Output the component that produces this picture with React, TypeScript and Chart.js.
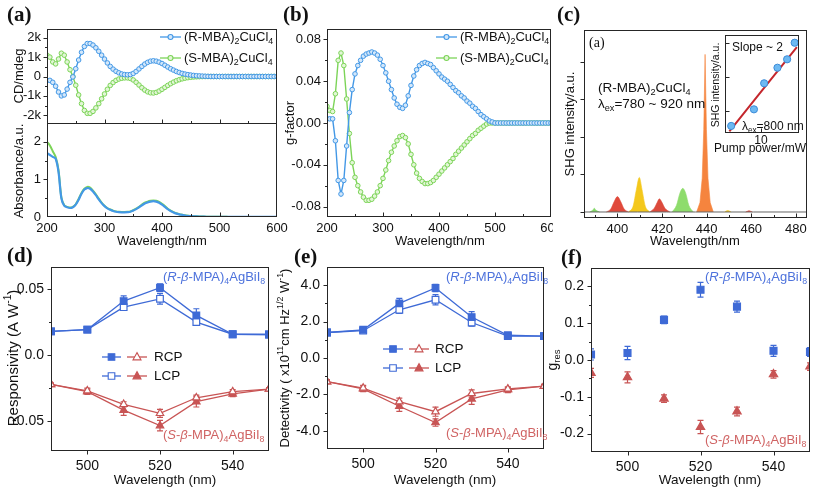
import React, { useEffect, useRef } from 'react';
import { Chart, registerables } from 'chart.js';

Chart.register(...registerables);

const SANS = '"Liberation Sans", Arial, sans-serif';
const SERIF = '"Liberation Serif", "Times New Roman", serif';

const A_BLUE = '#4398e6';
const A_BLUE_FILL = '#d3e7fa';
const A_GREEN = '#7cd458';
const A_GREEN_FILL = '#e2f6d6';
const D_BLUE = '#3e6ad6';
const D_RED = '#c85454';
const T_BLUE = '#4d72dc';
const T_RED = '#d06464';

// ---------------- (a) / (b) data ----------------
const wavelengthAB = [200, 205, 210, 215, 220, 225, 230, 235, 240, 245, 250, 255, 260, 265, 270, 275, 280, 285, 290, 295, 300, 305, 310, 315, 320, 325, 330, 335, 340, 345, 350, 355, 360, 365, 370, 375, 380, 385, 390, 395, 400, 405, 410, 415, 420, 425, 430, 435, 440, 445, 450, 455, 460, 465, 470, 475, 480, 485, 490, 495, 500, 505, 510, 515, 520, 525, 530, 535, 540, 545, 550, 555, 560, 565, 570, 575, 580, 585, 590, 595, 600];

const cdR = [-200, -200, -300, -500, -800, -1000, -950, -650, -300, -20, 400, 850, 1250, 1550, 1700, 1700, 1620, 1480, 1300, 1100, 900, 700, 520, 380, 270, 190, 130, 100, 90, 100, 160, 260, 390, 520, 640, 730, 790, 810, 790, 740, 670, 580, 490, 400, 330, 260, 205, 160, 125, 95, 75, 55, 40, 30, 20, 12, 6, 2, 0, 0, 0, 0, 0, 0, 0, 0, 0, 0, 0, 0, 0, 0, 0, 0, 0, 0, 0, 0, 0, 0, 0];
const cdS = [1100, 1000, 750, 650, 900, 1200, 1100, 750, 350, 0, -450, -950, -1400, -1750, -1900, -1900, -1800, -1620, -1400, -1150, -900, -660, -460, -310, -200, -130, -90, -70, -70, -100, -180, -300, -440, -580, -700, -790, -840, -850, -820, -750, -660, -560, -460, -370, -290, -220, -165, -120, -85, -60, -40, -25, -15, -8, -4, -1, 0, 0, 0, 0, 0, 0, 0, 0, 0, 0, 0, 0, 0, 0, 0, 0, 0, 0, 0, 0, 0, 0, 0, 0, 0];
const absR = [1.7, 1.65, 1.6, 1.55, 1.2, 0.5, 0.3, 0.26, 0.24, 0.26, 0.33, 0.46, 0.62, 0.73, 0.77, 0.75, 0.68, 0.58, 0.47, 0.37, 0.29, 0.23, 0.19, 0.16, 0.14, 0.13, 0.125, 0.125, 0.13, 0.14, 0.17, 0.21, 0.26, 0.31, 0.36, 0.39, 0.41, 0.42, 0.41, 0.38, 0.33, 0.27, 0.21, 0.16, 0.12, 0.09, 0.07, 0.055, 0.04, 0.03, 0.025, 0.02, 0.015, 0.012, 0.01, 0.008, 0.006, 0.005, 0.004, 0.004, 0.004, 0.003, 0.003, 0.003, 0.003, 0.003, 0.003, 0.003, 0.003, 0.002, 0.002, 0.002, 0.002, 0.002, 0.002, 0.002, 0.002, 0.002, 0.002, 0.002, 0.002];
const absS = [2.0, 1.9, 1.75, 1.6, 1.25, 0.52, 0.31, 0.27, 0.25, 0.27, 0.34, 0.48, 0.64, 0.75, 0.8, 0.78, 0.7, 0.6, 0.49, 0.38, 0.3, 0.24, 0.2, 0.17, 0.15, 0.14, 0.135, 0.135, 0.14, 0.15, 0.18, 0.22, 0.27, 0.33, 0.38, 0.41, 0.43, 0.44, 0.43, 0.4, 0.35, 0.29, 0.22, 0.17, 0.13, 0.1, 0.075, 0.06, 0.045, 0.035, 0.028, 0.022, 0.017, 0.013, 0.011, 0.009, 0.007, 0.006, 0.005, 0.005, 0.004, 0.004, 0.004, 0.003, 0.003, 0.003, 0.003, 0.003, 0.003, 0.003, 0.003, 0.002, 0.002, 0.002, 0.002, 0.002, 0.002, 0.002, 0.002, 0.002, 0.002];
const gR = [0.004, 0.004, 0.004, -0.017, -0.055, -0.068, -0.055, -0.022, 0.01, 0.032, 0.047, 0.055, 0.06, 0.064, 0.066, 0.067, 0.068, 0.067, 0.065, 0.061, 0.055, 0.048, 0.04, 0.032, 0.024, 0.018, 0.015, 0.014, 0.017, 0.026, 0.036, 0.045, 0.051, 0.055, 0.057, 0.058, 0.057, 0.056, 0.053, 0.05, 0.047, 0.044, 0.042, 0.04, 0.037, 0.034, 0.031, 0.029, 0.026, 0.024, 0.021, 0.019, 0.016, 0.014, 0.011, 0.008, 0.006, 0.004, 0.002, 0.001, 0, 0, 0, 0, 0, 0, 0, 0, 0, 0, 0, 0, 0, 0, 0, 0, 0, 0, 0, 0, 0];
const gS = [0.016, 0.012, 0.011, 0.028, 0.06, 0.067, 0.055, 0.023, -0.01, -0.038, -0.052, -0.06, -0.066, -0.071, -0.074, -0.074, -0.073, -0.07, -0.066, -0.06, -0.053, -0.045, -0.036, -0.028, -0.022, -0.017, -0.013, -0.012, -0.014, -0.02, -0.03, -0.04, -0.048, -0.053, -0.056, -0.058, -0.058, -0.057, -0.055, -0.052, -0.049, -0.046, -0.043, -0.04, -0.037, -0.034, -0.03, -0.027, -0.024, -0.021, -0.018, -0.015, -0.012, -0.01, -0.007, -0.005, -0.003, -0.001, 0, 0, 0, 0, 0, 0, 0, 0, 0, 0, 0, 0, 0, 0, 0, 0, 0, 0, 0, 0, 0, 0, 0];

const abTicks = [200, 300, 400, 500, 600];
const abTickLabels = ['200', '300', '400', '500', '600'];
const abMinor = [250, 350, 450, 550];
const cdTicks = [-2000, -1000, 0, 1000, 2000];
const cdTickLabels = ['-2k', '-1k', '0', '1k', '2k'];
const absTicks = [0, 1, 2];
const absTickLabels = ['0', '1', '2'];
const gTicks = [-0.08, -0.04, 0, 0.04, 0.08];
const gTickLabels = ['-0.08', '-0.04', '0.00', '0.04', '0.08'];

// ---------------- (c) data ----------------
const shg390X = [387.5, 389, 389.6, 390.3, 392];
const shg390Y = [0, 0.05, 0.1, 0.05, 0];
const shg400X = [395, 397, 398.5, 400, 401.5, 403, 405];
const shg400Y = [0, 0.08, 0.27, 0.41, 0.27, 0.08, 0];
const shg410X = [405, 407, 408.5, 409.8, 411, 412.5, 414.5];
const shg410Y = [0, 0.15, 0.6, 0.92, 0.6, 0.15, 0];
const shg420X = [414.5, 416.5, 417.8, 418.8, 420, 421.3, 423.5];
const shg420Y = [0, 0.1, 0.25, 0.35, 0.25, 0.1, 0];
const shg430X = [424.5, 426.5, 428, 429.3, 430.6, 432, 434];
const shg430Y = [0, 0.18, 0.5, 0.63, 0.5, 0.18, 0];
const shg440X = [435.5, 437, 438, 438.7, 439.3, 439.9, 440.6, 441.6, 443];
const shg440Y = [0, 0.25, 0.9, 2.2, 4.2, 2.2, 0.9, 0.25, 0];
const shg450X = [448, 449.5, 451];
const shg450Y = [0, 0.04, 0];
const shg460X = [457.5, 459, 460.5];
const shg460Y = [0, 0.03, 0];
const baseX = [385, 485];
const baseY = [0, 0];
const cTicks = [400, 420, 440, 460, 480];
const cTickLabels = ['400', '420', '440', '460', '480'];
const cMinor = [390, 410, 430, 450, 470];
const cYTicks = [0, 1, 2, 3, 4];

// inset (power dependence)
const pumpPower = [7, 9.2, 10.4, 12.2, 13.7, 15.0];
const shgPower = [52.2, 71.8, 118.3, 159.4, 187.4, 257.5];
const fitPower = [6.85, 15.4];
const fitShg = [47, 237];
const insetXTicks = [10];
const insetXTickLabels = ['10'];
const insetYTicks = [70, 134, 257];

// ---------------- (d)(e)(f) data ----------------
const wavelengthDEF = [490, 500, 510, 520, 530, 540, 550];
const defTicks = [500, 520, 540];
const defTickLabels = ['500', '520', '540'];

const respR_RCP = [0.0177, 0.019, 0.0406, 0.0507, 0.0298, 0.0155, 0.0153];
const respR_RCPerr = [0.001, 0.001, 0.004, 0.003, 0.005, 0.0015, 0.002];
const respR_LCP = [0.0177, 0.019, 0.036, 0.0423, 0.0247, 0.0155, 0.0153];
const respR_LCPerr = [0.001, 0.001, 0.002, 0.004, 0.002, 0.0015, 0.002];
const respS_RCP = [-0.0225, -0.0273, -0.0376, -0.0444, -0.0326, -0.028, -0.026];
const respS_RCPerr = [0.001, 0.002, 0.002, 0.003, 0.002, 0.0015, 0.001];
const respS_LCP = [-0.0225, -0.028, -0.042, -0.0537, -0.0356, -0.0297, -0.026];
const respS_LCPerr = [0.001, 0.002, 0.004, 0.004, 0.004, 0.002, 0.001];
const respTicks = [-0.05, 0, 0.05];
const respTickLabels = ['-0.05', '0.0', '0.05'];

const detR_RCP = [1.4, 1.55, 3.0, 3.85, 2.25, 1.25, 1.2];
const detR_RCPerr = [0.1, 0.1, 0.28, 0.2, 0.3, 0.1, 0.1];
const detR_LCP = [1.4, 1.5, 2.65, 3.2, 1.95, 1.2, 1.2];
const detR_LCPerr = [0.1, 0.1, 0.2, 0.28, 0.2, 0.1, 0.1];
const detS_RCP = [-1.3, -1.65, -2.4, -2.95, -1.95, -1.7, -1.55];
const detS_RCPerr = [0.1, 0.15, 0.2, 0.25, 0.2, 0.1, 0.1];
const detS_LCP = [-1.3, -1.7, -2.65, -3.55, -2.25, -1.75, -1.55];
const detS_LCPerr = [0.1, 0.15, 0.28, 0.2, 0.3, 0.15, 0.1];
const detTicks = [-4, -2, 0, 2, 4];
const detTickLabels = ['-4.0', '-2.0', '0.0', '2.0', '4.0'];

const gresR = [0.015, 0.019, 0.109, 0.191, 0.145, 0.025, 0.022];
const gresRerr = [0.015, 0.018, 0.01, 0.02, 0.015, 0.015, 0.012];
const gresS = [-0.035, -0.047, -0.105, -0.182, -0.14, -0.039, -0.018];
const gresSerr = [0.012, 0.015, 0.01, 0.018, 0.012, 0.01, 0.01];
const gresTicks = [-0.2, -0.1, 0, 0.1, 0.2];
const gresTickLabels = ['-0.2', '-0.1', '0.0', '0.1', '0.2'];

// ---------------- helpers ----------------
type Part = { t: string; sub?: boolean; sup?: boolean; it?: boolean };
type TextItem = { parts: Part[]; x: number; y: number; size?: number; color?: string; align?: 'left' | 'center' | 'right'; rot?: boolean; font?: string };
type Mark = { x1: number; x2: number; y: number; color: string; marker: 'circle' | 'rect' | 'triangle'; mx: number; fill: string; size: number };
type Deco = {
  ox: number; oy: number;
  xDir: 'in' | 'out' | 'none'; yDir: 'in' | 'out' | 'none';
  xMinor?: number[]; yMinor?: number[];
  texts?: TextItem[]; marks?: Mark[];
  whiteArea?: boolean; whiteFrom?: number;
};

const P = (t: string, o: Partial<Part> = {}): Part => ({ t, ...o });
const mbaR: Part[] = [P('(R-MBA)'), P('2', { sub: true }), P('CuCl'), P('4', { sub: true })];
const mbaS: Part[] = [P('(S-MBA)'), P('2', { sub: true }), P('CuCl'), P('4', { sub: true })];
const mpaR: Part[] = [P('('), P('R', { it: true }), P('-'), P('β', { it: true }), P('-MPA)'), P('4', { sub: true }), P('AgBiI'), P('8', { sub: true })];
const mpaS: Part[] = [P('('), P('S', { it: true }), P('-'), P('β', { it: true }), P('-MPA)'), P('4', { sub: true }), P('AgBiI'), P('8', { sub: true })];

function drawRich(ctx: CanvasRenderingContext2D, item: TextItem, ox: number, oy: number) {
  const size = item.size ?? 13;
  const fam = item.font ?? SANS;
  const fontOf = (p: Part) => `${p.it ? 'italic ' : ''}${p.sub || p.sup ? size * 0.68 : size}px ${fam}`;
  let total = 0;
  const widths = item.parts.map((p) => {
    ctx.font = fontOf(p);
    const w = ctx.measureText(p.t).width;
    total += w;
    return w;
  });
  ctx.save();
  ctx.translate(item.x - ox, item.y - oy);
  if (item.rot) ctx.rotate(-Math.PI / 2);
  let cx = item.align === 'center' ? -total / 2 : item.align === 'right' ? -total : 0;
  ctx.fillStyle = item.color ?? '#111';
  ctx.textBaseline = 'middle';
  ctx.textAlign = 'left';
  item.parts.forEach((p, i) => {
    ctx.font = fontOf(p);
    const dy = p.sub ? size * 0.32 : p.sup ? -size * 0.36 : 0;
    ctx.fillText(p.t, cx, dy);
    cx += widths[i];
  });
  ctx.restore();
}

function drawMarker(ctx: CanvasRenderingContext2D, kind: string, x: number, y: number, s: number, stroke: string, fill: string) {
  ctx.beginPath();
  if (kind === 'circle') ctx.arc(x, y, s, 0, Math.PI * 2);
  else if (kind === 'rect') ctx.rect(x - s, y - s, 2 * s, 2 * s);
  else {
    ctx.moveTo(x, y - s * 1.15);
    ctx.lineTo(x + s * 1.05, y + s * 0.75);
    ctx.lineTo(x - s * 1.05, y + s * 0.75);
    ctx.closePath();
  }
  ctx.fillStyle = fill;
  ctx.fill();
  ctx.strokeStyle = stroke;
  ctx.lineWidth = 1.1;
  ctx.stroke();
}

function makeDeco(d: Deco) {
  return {
    id: 'deco',
    beforeDraw(chart: any) {
      const { ctx, chartArea: a } = chart;
      ctx.save();
      ctx.fillStyle = '#ffffff';
      if (d.whiteFrom !== undefined) ctx.fillRect(d.whiteFrom - d.ox, 0, chart.width, chart.height);
      if (d.whiteArea) ctx.fillRect(a.left, a.top, a.right - a.left, a.bottom - a.top);
      ctx.restore();
    },
    beforeDatasetsDraw(chart: any) {
      const { ctx, chartArea: a } = chart;
      ctx.save();
      ctx.beginPath();
      ctx.rect(a.left, a.top, a.right - a.left, a.bottom - a.top);
      ctx.clip();
      chart.data.datasets.forEach((ds: any, i: number) => {
        if (!ds.errors) return;
        const meta = chart.getDatasetMeta(i);
        const ys = chart.scales.y;
        meta.data.forEach((el: any, j: number) => {
          const v = ds.data[j].y;
          const e = ds.errors[j];
          const y1 = ys.getPixelForValue(v + e);
          const y2 = ys.getPixelForValue(v - e);
          ctx.strokeStyle = ds.borderColor;
          ctx.lineWidth = 1.2;
          ctx.beginPath();
          ctx.moveTo(el.x, y1);
          ctx.lineTo(el.x, y2);
          ctx.moveTo(el.x - 3, y1);
          ctx.lineTo(el.x + 3, y1);
          ctx.moveTo(el.x - 3, y2);
          ctx.lineTo(el.x + 3, y2);
          ctx.stroke();
        });
      });
      ctx.restore();
    },
    afterDraw(chart: any) {
      const { ctx, chartArea: a } = chart;
      const L = Math.round(a.left), R = Math.round(a.right), T = Math.round(a.top), B = Math.round(a.bottom);
      ctx.save();
      ctx.strokeStyle = '#262626';
      ctx.lineWidth = 1;
      ctx.strokeRect(L + 0.5, T + 0.5, R - L - 1, B - T - 1);
      const xs = chart.scales.x, ys = chart.scales.y;
      const tickX = (vals: number[], len: number) => {
        if (d.xDir === 'none') return;
        vals.forEach((v) => {
          const p = Math.round(xs.getPixelForValue(v)) + 0.5;
          if (p < L || p > R) return;
          const y0 = B - 0.5;
          ctx.beginPath();
          ctx.moveTo(p, y0);
          ctx.lineTo(p, d.xDir === 'out' ? y0 + len : y0 - len);
          ctx.stroke();
        });
      };
      const tickY = (vals: number[], len: number) => {
        if (d.yDir === 'none') return;
        vals.forEach((v) => {
          const p = Math.round(ys.getPixelForValue(v)) + 0.5;
          if (p < T || p > B) return;
          const x0 = L + 0.5;
          ctx.beginPath();
          ctx.moveTo(x0, p);
          ctx.lineTo(d.yDir === 'out' ? x0 - len : x0 + len, p);
          ctx.stroke();
        });
      };
      tickX(xs.ticks.map((t: any) => t.value), 4);
      tickY(ys.ticks.map((t: any) => t.value), 4);
      tickX(d.xMinor ?? [], 2.5);
      tickY(d.yMinor ?? [], 2.5);
      (d.marks ?? []).forEach((m) => {
        ctx.strokeStyle = m.color;
        ctx.lineWidth = 1.3;
        ctx.beginPath();
        ctx.moveTo(m.x1 - d.ox, m.y - d.oy);
        ctx.lineTo(m.x2 - d.ox, m.y - d.oy);
        ctx.stroke();
        drawMarker(ctx, m.marker, m.mx - d.ox, m.y - d.oy, m.size, m.color, m.fill);
      });
      (d.texts ?? []).forEach((t) => drawRich(ctx, t, d.ox, d.oy));
      ctx.restore();
    },
  };
}

function axis(o: { axis: 'x' | 'y'; min: number; max: number; ticks: number[]; labels?: string[]; size: number; font?: number; pad?: number; type?: string }) {
  return {
    type: o.type ?? 'linear',
    position: o.axis === 'x' ? 'bottom' : 'left',
    min: o.min,
    max: o.max,
    grid: { display: false, drawTicks: false },
    border: { display: false },
    afterBuildTicks: (s: any) => { s.ticks = o.ticks.map((v) => ({ value: v })); },
    afterFit: (s: any) => {
      if (o.axis === 'x') s.height = o.size; else s.width = o.size;
      s.paddingLeft = 0; s.paddingRight = 0; s.paddingTop = 0; s.paddingBottom = 0;
    },
    ticks: {
      display: !!o.labels,
      autoSkip: false,
      maxRotation: 0,
      minRotation: 0,
      padding: o.pad ?? 5,
      color: '#111',
      font: { family: SANS, size: o.font ?? 13 },
      callback: (_v: any, i: number) => (o.labels ? o.labels[i] : ''),
    },
  };
}

const pts = (xs: number[], ys: number[]) => xs.map((x, i) => ({ x, y: ys[i] }));

const beadLine = (xs: number[], ys: number[], color: string, fill: string) => ({
  data: pts(xs, ys), borderColor: color, borderWidth: 1.4, pointRadius: 2.3, pointStyle: 'circle',
  pointBackgroundColor: fill, pointBorderColor: color, pointBorderWidth: 1, tension: 0, fill: false, clip: 0,
});
const plainLine = (xs: number[], ys: number[], color: string, width: number) => ({
  data: pts(xs, ys), borderColor: color, borderWidth: width, pointRadius: 0, tension: 0.3, fill: false, clip: 0,
});
const peakArea = (xs: number[], ys: number[], color: string, smooth = true) => ({
  data: pts(xs, ys), borderColor: color, backgroundColor: color, borderWidth: 0.6, pointRadius: 0,
  tension: 0, cubicInterpolationMode: smooth ? 'monotone' : 'default', fill: 'origin', clip: 0,
});
const markLine = (xs: number[], ys: number[], errs: number[], color: string, style: string, filled: boolean, radius: number, showLine = true) => ({
  data: pts(xs, ys), errors: errs, borderColor: color, borderWidth: 1.3, showLine, pointStyle: style, pointRadius: radius,
  pointBackgroundColor: filled ? color : '#ffffff', pointBorderColor: color, pointBorderWidth: 1.2, fill: false, tension: 0, clip: 0,
});

function cfg(datasets: any[], x: any, y: any, pad: { top: number; right: number }, deco: Deco) {
  return {
    type: 'line',
    data: { datasets },
    options: {
      animation: false,
      responsive: false,
      events: [],
      layout: { autoPadding: false, padding: { top: pad.top, right: pad.right, left: 0, bottom: 0 } },
      plugins: { legend: { display: false }, tooltip: { enabled: false } },
      scales: { x, y },
    },
    plugins: [makeDeco(deco)],
  };
}

// ---------------- panels ----------------
const aTop = () => cfg(
  [beadLine(wavelengthAB, cdR, A_BLUE, A_BLUE_FILL), beadLine(wavelengthAB, cdS, A_GREEN, A_GREEN_FILL)],
  axis({ axis: 'x', min: 200, max: 600, ticks: abTicks, size: 1 }),
  axis({ axis: 'y', min: -2450, max: 2450, ticks: cdTicks, labels: cdTickLabels, size: 47, pad: 6 }),
  { top: 9, right: 13 },
  {
    ox: 0, oy: 20, xDir: 'in', yDir: 'out', xMinor: abMinor, yMinor: [-1500, -500, 500, 1500],
    marks: [
      { x1: 160, x2: 181, y: 37, color: A_BLUE, marker: 'circle', mx: 170.5, fill: A_BLUE_FILL, size: 2.5 },
      { x1: 160, x2: 181, y: 58, color: A_GREEN, marker: 'circle', mx: 170.5, fill: A_GREEN_FILL, size: 2.5 },
    ],
    texts: [
      { parts: [P('CD/mdeg')], x: 19, y: 76, rot: true, align: 'center' },
      { parts: mbaR, x: 184, y: 37 },
      { parts: mbaS, x: 184, y: 58 },
    ],
  },
);

const aBot = () => cfg(
  [plainLine(wavelengthAB, absR, A_BLUE, 2.2), plainLine(wavelengthAB, absS, A_GREEN, 2)],
  axis({ axis: 'x', min: 200, max: 600, ticks: abTicks, labels: abTickLabels, size: 33, pad: 4 }),
  axis({ axis: 'y', min: 0, max: 2.5, ticks: absTicks, labels: absTickLabels, size: 47, pad: 6 }),
  { top: 5, right: 13 },
  {
    ox: 0, oy: 118, xDir: 'in', yDir: 'out', xMinor: abMinor, yMinor: [0.5, 1.5],
    texts: [
      { parts: [P('Absorbance/a.u.')], x: 19, y: 171, rot: true, align: 'center' },
      { parts: [P('Wavelength/nm')], x: 162, y: 241, align: 'center' },
    ],
  },
);

const bCfg = () => cfg(
  [beadLine(wavelengthAB, gR, A_BLUE, A_BLUE_FILL), beadLine(wavelengthAB, gS, A_GREEN, A_GREEN_FILL)],
  axis({ axis: 'x', min: 200, max: 600, ticks: abTicks, labels: abTickLabels, size: 33, pad: 4 }),
  axis({ axis: 'y', min: -0.09, max: 0.09, ticks: gTicks, labels: gTickLabels, size: 47, pad: 6 }),
  { top: 9, right: 4 },
  {
    ox: 280, oy: 20, xDir: 'in', yDir: 'out', xMinor: abMinor, yMinor: [-0.06, -0.02, 0.02, 0.06],
    marks: [
      { x1: 436, x2: 457, y: 37, color: A_BLUE, marker: 'circle', mx: 446.5, fill: A_BLUE_FILL, size: 2.5 },
      { x1: 436, x2: 457, y: 58, color: A_GREEN, marker: 'circle', mx: 446.5, fill: A_GREEN_FILL, size: 2.5 },
    ],
    texts: [
      { parts: [P('g-factor')], x: 290, y: 123, rot: true, align: 'center' },
      { parts: [P('Wavelength/nm')], x: 440, y: 241, align: 'center' },
      { parts: mbaR, x: 460, y: 37 },
      { parts: mbaS, x: 460, y: 58 },
    ],
  },
);

const cCfg = () => cfg(
  [
    plainLine(baseX, baseY, '#666666', 1),
    peakArea(shg390X, shg390Y, '#84d86a'),
    peakArea(shg400X, shg400Y, '#e0493b'),
    peakArea(shg410X, shg410Y, '#f4c81c'),
    peakArea(shg420X, shg420Y, '#dc4a3c'),
    peakArea(shg430X, shg430Y, '#8edc6c'),
    peakArea(shg440X, shg440Y, '#f5843e', false),
    peakArea(shg450X, shg450Y, '#f4c81c'),
    peakArea(shg460X, shg460Y, '#e0493b'),
  ],
  axis({ axis: 'x', min: 385, max: 485, ticks: cTicks, labels: cTickLabels, size: 32, pad: 4 }),
  axis({ axis: 'y', min: -0.16, max: 4.85, ticks: cYTicks, size: 34 }),
  { top: 10, right: 6 },
  {
    ox: 550, oy: 20, xDir: 'in', yDir: 'out', xMinor: cMinor, whiteFrom: 553,
    texts: [
      { parts: [P('SHG intensity/a.u.')], x: 570, y: 124, rot: true, align: 'center' },
      { parts: [P('Wavelength/nm')], x: 695, y: 241, align: 'center' },
      { parts: [P('(a)')], x: 589, y: 43, size: 14, font: SERIF },
      { parts: mbaR, x: 598, y: 88, size: 13.5 },
      { parts: [P('λ'), P('ex', { sub: true }), P('=780 ~ 920 nm')], x: 598, y: 104, size: 13.5 },
    ],
  },
);

const insetCfg = () => cfg(
  [
    { data: pts(pumpPower, shgPower), showLine: false, pointRadius: 3.6, pointStyle: 'circle', pointBackgroundColor: '#6db9f2', pointBorderColor: '#3b8bd8', pointBorderWidth: 1, clip: 0 },
    plainLine(fitPower, fitShg, '#c4262c', 2),
  ],
  axis({ axis: 'x', type: 'logarithmic', min: 6.5, max: 15.8, ticks: insetXTicks, labels: insetXTickLabels, size: 25, pad: 0, font: 12 }),
  axis({ axis: 'y', type: 'logarithmic', min: 45.6, max: 298.6, ticks: insetYTicks, size: 27 }),
  { top: 7, right: 11 },
  {
    ox: 698, oy: 28, xDir: 'in', yDir: 'in', whiteArea: true,
    texts: [
      { parts: [P('SHG intensity/a.u.')], x: 716, y: 85, rot: true, align: 'center', size: 10.5 },
      { parts: [P('Pump power/mW')], x: 760, y: 149, align: 'center', size: 12 },
      { parts: [P('Slope ~ 2')], x: 732, y: 48, size: 12 },
      { parts: [P('λ'), P('ex', { sub: true }), P('=800 nm')], x: 742, y: 127, size: 12 },
    ],
  },
);

const dCfg = () => cfg(
  [
    markLine(wavelengthDEF, respR_RCP, respR_RCPerr, D_BLUE, 'rect', true, 4.7),
    markLine(wavelengthDEF, respR_LCP, respR_LCPerr, D_BLUE, 'rect', false, 4.7),
    markLine(wavelengthDEF, respS_RCP, respS_RCPerr, D_RED, 'triangle', false, 4.3),
    markLine(wavelengthDEF, respS_LCP, respS_LCPerr, D_RED, 'triangle', true, 4.3),
  ],
  axis({ axis: 'x', min: 490, max: 550, ticks: defTicks, labels: defTickLabels, size: 41, pad: 7, font: 14 }),
  axis({ axis: 'y', min: -0.0729, max: 0.0664, ticks: respTicks, labels: respTickLabels, size: 51, pad: 7, font: 14 }),
  { top: 17, right: 6 },
  {
    ox: 0, oy: 250, xDir: 'out', yDir: 'out', yMinor: [-0.025, 0.025],
    marks: [
      { x1: 102, x2: 121, y: 357, color: D_BLUE, marker: 'rect', mx: 111.5, fill: D_BLUE, size: 3.3 },
      { x1: 127, x2: 147, y: 357, color: D_RED, marker: 'triangle', mx: 137, fill: '#ffffff', size: 3.8 },
      { x1: 102, x2: 121, y: 376, color: D_BLUE, marker: 'rect', mx: 111.5, fill: '#ffffff', size: 3.3 },
      { x1: 127, x2: 147, y: 376, color: D_RED, marker: 'triangle', mx: 137, fill: D_RED, size: 3.8 },
    ],
    texts: [
      { parts: [P('Responsivity (A W'), P('-1', { sup: true }), P(')')], x: 14, y: 358, rot: true, align: 'center', size: 15 },
      { parts: [P('Wavelength (nm)')], x: 165, y: 480, align: 'center', size: 13.5 },
      { parts: [P('RCP')], x: 154, y: 357, size: 13.5 },
      { parts: [P('LCP')], x: 154, y: 376, size: 13.5 },
      { parts: mpaR, x: 163, y: 277, color: T_BLUE },
      { parts: mpaS, x: 163, y: 435, color: T_RED },
    ],
  },
);

const eCfg = () => cfg(
  [
    markLine(wavelengthDEF, detR_RCP, detR_RCPerr, D_BLUE, 'rect', true, 4.7),
    markLine(wavelengthDEF, detR_LCP, detR_LCPerr, D_BLUE, 'rect', false, 4.7),
    markLine(wavelengthDEF, detS_RCP, detS_RCPerr, D_RED, 'triangle', false, 4.3),
    markLine(wavelengthDEF, detS_LCP, detS_LCPerr, D_RED, 'triangle', true, 4.3),
  ],
  axis({ axis: 'x', min: 490, max: 550, ticks: defTicks, labels: defTickLabels, size: 43, pad: 7, font: 14 }),
  axis({ axis: 'y', min: -5, max: 5, ticks: detTicks, labels: detTickLabels, size: 52, pad: 7, font: 14 }),
  { top: 17, right: 6 },
  {
    ox: 275, oy: 250, xDir: 'out', yDir: 'out', yMinor: [-3, -1, 1, 3],
    marks: [
      { x1: 383, x2: 403, y: 349, color: D_BLUE, marker: 'rect', mx: 393, fill: D_BLUE, size: 3.3 },
      { x1: 409, x2: 429, y: 349, color: D_RED, marker: 'triangle', mx: 419, fill: '#ffffff', size: 3.8 },
      { x1: 383, x2: 403, y: 368, color: D_BLUE, marker: 'rect', mx: 393, fill: '#ffffff', size: 3.3 },
      { x1: 409, x2: 429, y: 368, color: D_RED, marker: 'triangle', mx: 419, fill: D_RED, size: 3.8 },
    ],
    texts: [
      { parts: [P('Detectivity ( x10'), P('11', { sup: true }), P('cm Hz'), P('1/2', { sup: true }), P(' W'), P('-1', { sup: true }), P(')')], x: 285, y: 358, rot: true, align: 'center', size: 13 },
      { parts: [P('Wavelength (nm)')], x: 445, y: 480, align: 'center', size: 13.5 },
      { parts: [P('RCP')], x: 435, y: 349, size: 13.5 },
      { parts: [P('LCP')], x: 435, y: 368, size: 13.5 },
      { parts: mpaR, x: 446, y: 277, color: T_BLUE },
      { parts: mpaS, x: 446, y: 433, color: T_RED },
    ],
  },
);

const fCfg = () => cfg(
  [
    markLine(wavelengthDEF, gresR, gresRerr, D_BLUE, 'rect', true, 4.9, false),
    markLine(wavelengthDEF, gresS, gresSerr, D_RED, 'triangle', true, 4.8, false),
  ],
  axis({ axis: 'x', min: 490, max: 550, ticks: defTicks, labels: defTickLabels, size: 40, pad: 7, font: 14 }),
  axis({ axis: 'y', min: -0.25, max: 0.25, ticks: gresTicks, labels: gresTickLabels, size: 45, pad: 7, font: 14 }),
  { top: 18, right: 3 },
  {
    ox: 546, oy: 250, xDir: 'out', yDir: 'out', yMinor: [-0.15, -0.05, 0.05, 0.15], whiteFrom: 548,
    texts: [
      { parts: [P('g'), P('res', { sub: true })], x: 553, y: 360, rot: true, align: 'center', size: 14 },
      { parts: [P('Wavelength (nm)')], x: 710, y: 480, align: 'center', size: 13.5 },
      { parts: mpaR, x: 705, y: 277, color: T_BLUE },
      { parts: mpaS, x: 705, y: 440, color: T_RED },
    ],
  },
);

type Rect = { l: number; t: number; w: number; h: number };
const PANELS: { key: string; rect: Rect; build: () => any }[] = [
  { key: 'aTop', rect: { l: 0, t: 20, w: 290, h: 105 }, build: aTop },
  { key: 'aBot', rect: { l: 0, t: 118, w: 290, h: 132 }, build: aBot },
  { key: 'b', rect: { l: 280, t: 20, w: 275, h: 230 }, build: bCfg },
  { key: 'c', rect: { l: 550, t: 20, w: 263, h: 230 }, build: cCfg },
  { key: 'inset', rect: { l: 698, t: 28, w: 112, h: 130 }, build: insetCfg },
  { key: 'd', rect: { l: 0, t: 250, w: 275, h: 242 }, build: dCfg },
  { key: 'e', rect: { l: 275, t: 250, w: 275, h: 242 }, build: eCfg },
  { key: 'f', rect: { l: 546, t: 250, w: 267, h: 242 }, build: fCfg },
];

const PANEL_LABELS = [
  { t: '(a)', x: 7, y: 4 },
  { t: '(b)', x: 283, y: 4 },
  { t: '(c)', x: 557, y: 4 },
  { t: '(d)', x: 7, y: 245 },
  { t: '(e)', x: 294, y: 246 },
  { t: '(f)', x: 561, y: 247 },
];

function ChartCanvas({ rect, build }: { rect: Rect; build: () => any }) {
  const ref = useRef<HTMLCanvasElement>(null);
  useEffect(() => {
    const chart = new Chart(ref.current as HTMLCanvasElement, build());
    return () => chart.destroy();
  }, []);
  return (
    <canvas
      ref={ref}
      width={rect.w}
      height={rect.h}
      style={{ position: 'absolute', left: rect.l, top: rect.t, width: rect.w, height: rect.h }}
    />
  );
}

export default function App() {
  return (
    <div style={{ position: 'absolute', left: 0, top: 0, width: 813, height: 492, background: '#fff', overflow: 'hidden' }}>
      {PANELS.map((p) => (
        <ChartCanvas key={p.key} rect={p.rect} build={p.build} />
      ))}
      {PANEL_LABELS.map((l) => (
        <div
          key={l.t}
          style={{ position: 'absolute', left: l.x, top: l.y, font: `bold 21px ${SERIF}`, lineHeight: '21px', color: '#111' }}
        >
          {l.t}
        </div>
      ))}
    </div>
  );
}
